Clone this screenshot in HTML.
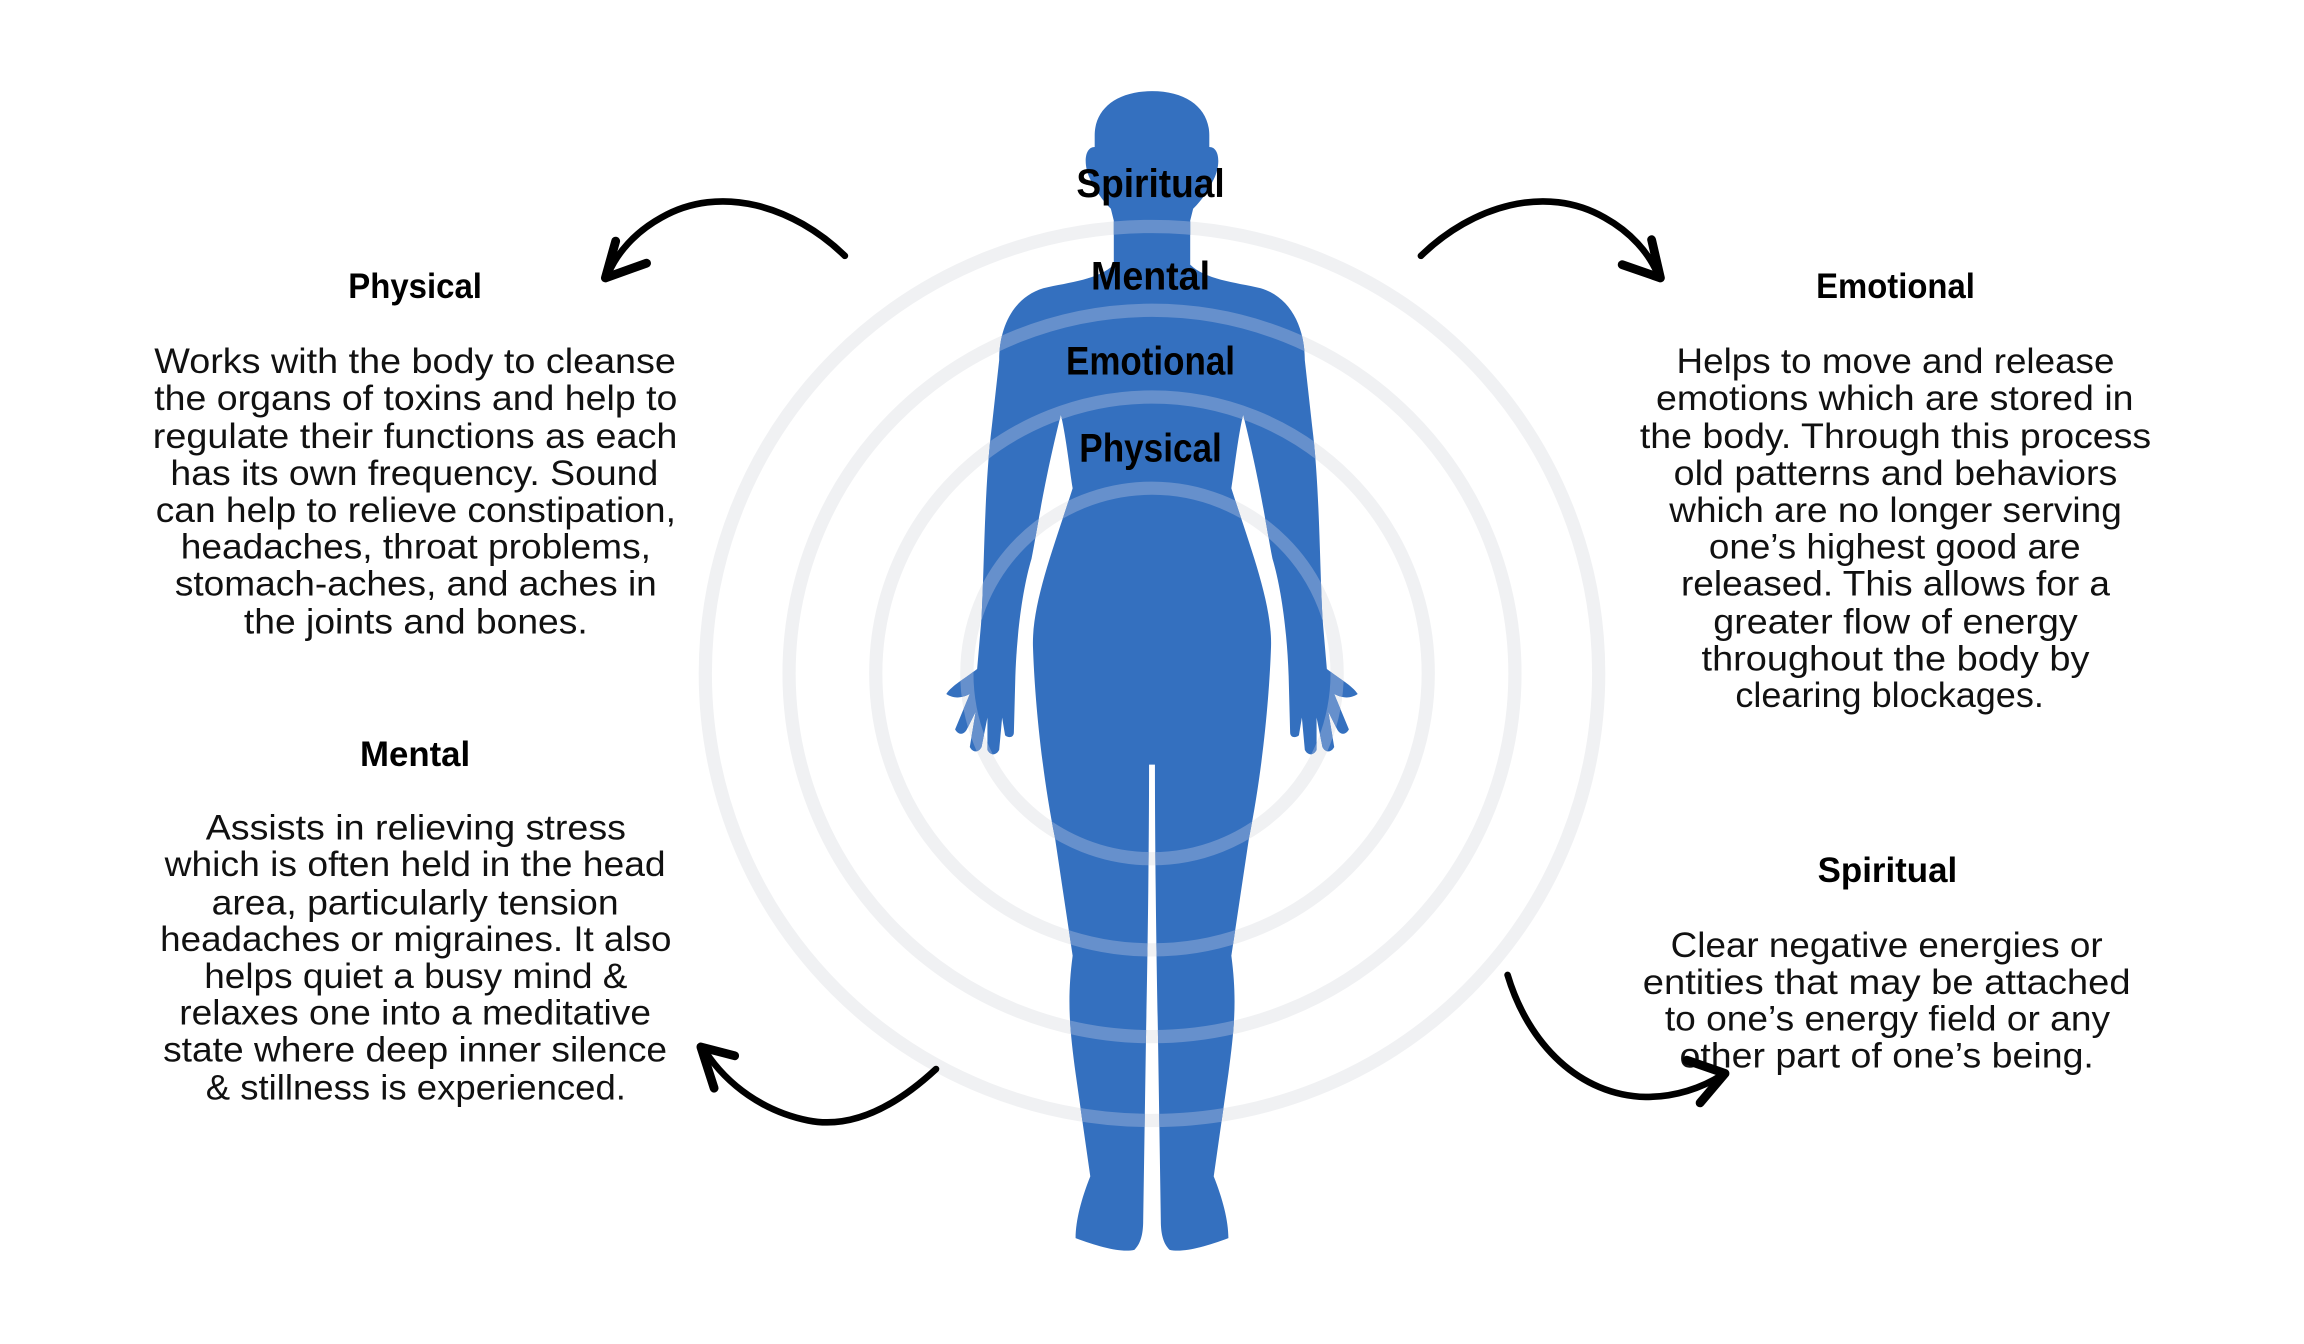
<!DOCTYPE html>
<html><head><meta charset="utf-8"><style>
html,body{margin:0;padding:0;background:#fff;width:2304px;height:1344px;overflow:hidden}
svg{display:block}
.b{font-family:"Liberation Sans",sans-serif;font-size:24px;fill:#111;font-weight:normal}
.h{font-family:"Liberation Sans",sans-serif;font-size:24px;font-weight:bold;fill:#000}
.c{font-family:"Liberation Sans",sans-serif;font-size:27px;font-weight:bold;fill:#000}
</style></head><body>
<svg width="2304" height="1344" viewBox="0 0 1568 914" preserveAspectRatio="none" xmlns="http://www.w3.org/2000/svg">
<defs>
<path id="body" d="M784,62 C808,62 823,74 823,92 L823,100 C830,100 831,112 826,122 C822,130 818,136 812,142 L810,150 L810,180 C820,190 840,192 858,196 C878,202 888,222 888,245 L893,290 C898,330 898,380 900,420 L903,455 C912,462 920,466 924,472 C918,476 912,474 908,472 L918,496 C916,500 912,500 910,496 L904,484 L908,508 C906,512 902,512 900,508 L896,488 L896,510 C894,514 890,514 888,510 L886,488 L884,500 C882,502 878,502 878,498 L877,460 C876,430 872,400 866,380 C862,360 858,330 846,282 C842,300 840,320 838,332 C850,370 866,410 865,440 C864,470 860,520 850,570 L838,650 C842,680 840,700 836,730 L826,800 C832,815 836,830 836,842 C820,848 805,852 796,850 C792,846 790,840 790,830 L788,700 C787,650 786,580 786,520 L782,520 C782,580 781,650 780,700 L778,830 C778,840 776,846 772,850 C763,852 748,848 732,842 C732,830 736,815 742,800 L732,730 C728,700 726,680 730,650 L718,570 C708,520 704,470 703,440 C702,410 718,370 730,332 C728,320 726,300 722,282 C710,330 706,360 702,380 C696,400 692,430 691,460 L690,498 C690,502 686,502 684,500 L682,488 L680,510 C678,514 674,514 672,510 L672,488 L668,508 C666,512 662,512 660,508 L664,484 L658,496 C656,500 652,500 650,496 L660,472 C656,474 650,476 644,472 C648,466 656,462 665,455 L668,420 C670,380 670,330 675,290 L680,245 C680,222 690,202 710,196 C728,192 748,190 758,180 L758,150 L756,142 C750,136 746,130 742,122 C737,112 738,100 745,100 L745,92 C745,74 760,62 784,62 Z"/>
<clipPath id="bc"><use href="#body"/></clipPath>
</defs>
<g fill="none" stroke="#f0f1f3" stroke-width="9">
<circle cx="784" cy="458" r="304"/><circle cx="784" cy="458" r="247"/><circle cx="784" cy="458" r="188"/><circle cx="784" cy="458" r="126"/>
</g>
<use href="#body" fill="#3470bf"/>
<g fill="none" stroke="#6690cc" stroke-width="9" clip-path="url(#bc)">
<circle cx="784" cy="458" r="304"/><circle cx="784" cy="458" r="247"/><circle cx="784" cy="458" r="188"/><circle cx="784" cy="458" r="126"/>
</g>
<g text-anchor="middle" dominant-baseline="central">
<text class="c" x="783" y="125" textLength="101" lengthAdjust="spacingAndGlyphs">Spiritual</text>
<text class="c" x="783" y="188" textLength="81" lengthAdjust="spacingAndGlyphs">Mental</text>
<text class="c" x="783" y="246" textLength="115" lengthAdjust="spacingAndGlyphs">Emotional</text>
<text class="c" x="783" y="305" textLength="97" lengthAdjust="spacingAndGlyphs">Physical</text>
</g>
<g dominant-baseline="central">
<text class="h" x="237" y="195" textLength="91" lengthAdjust="spacingAndGlyphs">Physical</text>
<text class="b" x="105" y="246" textLength="355" lengthAdjust="spacingAndGlyphs">Works with the body to cleanse</text>
<text class="b" x="105" y="271" textLength="356" lengthAdjust="spacingAndGlyphs">the organs of toxins and help to</text>
<text class="b" x="104" y="297" textLength="357" lengthAdjust="spacingAndGlyphs">regulate their functions as each</text>
<text class="b" x="116" y="322" textLength="332" lengthAdjust="spacingAndGlyphs">has its own frequency. Sound</text>
<text class="b" x="106" y="347" textLength="354" lengthAdjust="spacingAndGlyphs">can help to relieve constipation,</text>
<text class="b" x="123" y="372" textLength="320" lengthAdjust="spacingAndGlyphs">headaches, throat problems,</text>
<text class="b" x="119" y="397" textLength="328" lengthAdjust="spacingAndGlyphs">stomach-aches, and aches in</text>
<text class="b" x="166" y="423" textLength="234" lengthAdjust="spacingAndGlyphs">the joints and bones.</text>

<text class="h" x="245" y="513" textLength="75" lengthAdjust="spacingAndGlyphs">Mental</text>
<text class="b" x="140" y="563" textLength="286" lengthAdjust="spacingAndGlyphs">Assists in relieving stress</text>
<text class="b" x="112" y="588" textLength="341" lengthAdjust="spacingAndGlyphs">which is often held in the head</text>
<text class="b" x="144" y="614" textLength="277" lengthAdjust="spacingAndGlyphs">area, particularly tension</text>
<text class="b" x="109" y="639" textLength="348" lengthAdjust="spacingAndGlyphs">headaches or migraines. It also</text>
<text class="b" x="139" y="664" textLength="288" lengthAdjust="spacingAndGlyphs">helps quiet a busy mind &amp;</text>
<text class="b" x="122" y="689" textLength="321" lengthAdjust="spacingAndGlyphs">relaxes one into a meditative</text>
<text class="b" x="111" y="714" textLength="343" lengthAdjust="spacingAndGlyphs">state where deep inner silence</text>
<text class="b" x="140" y="740" textLength="286" lengthAdjust="spacingAndGlyphs">&amp; stillness is experienced.</text>

<text class="h" x="1236" y="195" textLength="108" lengthAdjust="spacingAndGlyphs">Emotional</text>
<text class="b" x="1141" y="246" textLength="298" lengthAdjust="spacingAndGlyphs">Helps to move and release</text>
<text class="b" x="1127" y="271" textLength="325" lengthAdjust="spacingAndGlyphs">emotions which are stored in</text>
<text class="b" x="1116" y="297" textLength="348" lengthAdjust="spacingAndGlyphs">the body. Through this process</text>
<text class="b" x="1139" y="322" textLength="302" lengthAdjust="spacingAndGlyphs">old patterns and behaviors</text>
<text class="b" x="1136" y="347" textLength="308" lengthAdjust="spacingAndGlyphs">which are no longer serving</text>
<text class="b" x="1163" y="372" textLength="253" lengthAdjust="spacingAndGlyphs">one’s highest good are</text>
<text class="b" x="1144" y="397" textLength="292" lengthAdjust="spacingAndGlyphs">released. This allows for a</text>
<text class="b" x="1166" y="423" textLength="248" lengthAdjust="spacingAndGlyphs">greater flow of energy</text>
<text class="b" x="1158" y="448" textLength="264" lengthAdjust="spacingAndGlyphs">throughout the body by</text>
<text class="b" x="1181" y="473" textLength="210" lengthAdjust="spacingAndGlyphs">clearing blockages.</text>

<text class="h" x="1237" y="592" textLength="95" lengthAdjust="spacingAndGlyphs">Spiritual</text>
<text class="b" x="1137" y="643" textLength="294" lengthAdjust="spacingAndGlyphs">Clear negative energies or</text>
<text class="b" x="1118" y="668" textLength="332" lengthAdjust="spacingAndGlyphs">entities that may be attached</text>
<text class="b" x="1133" y="693" textLength="303" lengthAdjust="spacingAndGlyphs">to one’s energy field or any</text>
<text class="b" x="1143" y="718" textLength="282" lengthAdjust="spacingAndGlyphs">other part of one’s being.</text>
</g>
<g fill="none" stroke="#000" stroke-linecap="round" stroke-linejoin="round">
<path d="M575,174 C540,140 490,125 450,148 C432,158 420,172 414,186" stroke-width="4.5"/>
<path d="M419,164 L412,189 L440,179" stroke-width="6"/>
<path d="M967,174 C1002,140 1052,125 1092,148 C1110,158 1122,172 1128,186" stroke-width="4.5"/>
<path d="M1104,180 L1130,189 L1124,163" stroke-width="6"/>
<path d="M637,727 C610,752 580,768 550,762 C520,756 495,738 480,715" stroke-width="4.5"/>
<path d="M500,718 L477,712 L486,740" stroke-width="6"/>
<path d="M1026,663 C1040,710 1075,745 1120,746 C1140,746 1158,740 1172,731" stroke-width="4.5"/>
<path d="M1148,721 L1174,730 L1157,750" stroke-width="6"/>
</g>
</svg>
</body></html>
